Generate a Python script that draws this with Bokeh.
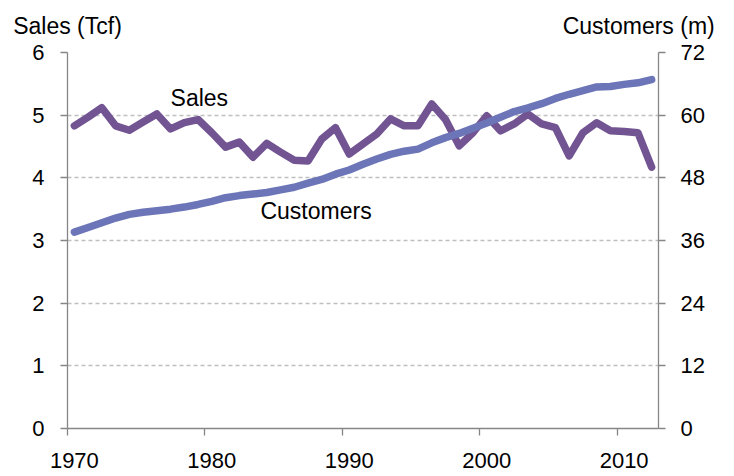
from bokeh.plotting import figure
from bokeh.models import Range1d, LinearAxis, FixedTicker, Label
from bokeh.embed import file_html
from bokeh.resources import INLINE

years = list(range(1970, 2013))
sales = [4.83, 4.97, 5.12, 4.83, 4.76, 4.89, 5.02, 4.78, 4.88, 4.93,
         4.72, 4.49, 4.57, 4.33, 4.55, 4.41, 4.28, 4.27, 4.62, 4.80,
         4.38, 4.54, 4.70, 4.94, 4.83, 4.83, 5.18, 4.93, 4.51, 4.72,
         4.99, 4.75, 4.86, 5.02, 4.86, 4.80, 4.35, 4.72, 4.88, 4.75,
         4.74, 4.72, 4.17]
customers = [37.6, 38.5, 39.4, 40.3, 41.0, 41.4, 41.7, 42.0, 42.4, 42.9,
             43.5, 44.2, 44.6, 44.9, 45.2, 45.7, 46.2, 47.0, 47.7, 48.7,
             49.5, 50.6, 51.6, 52.5, 53.1, 53.5, 54.7, 55.7, 56.5, 57.5,
             58.5, 59.6, 60.7, 61.4, 62.2, 63.2, 64.0, 64.7, 65.4, 65.5,
             65.9, 66.2, 66.8]
x_ticks = [1970, 1980, 1990, 2000, 2010]
x_tick_labels = ["1970", "1980", "1990", "2000", "2010"]
left_ticks = [0, 1, 2, 3, 4, 5, 6]
right_ticks = [0, 12, 24, 36, 48, 60, 72]
left_title = "Sales (Tcf)"
right_title = "Customers (m)"

# categories are centred half a year after their boundary tick
xs = [y + 0.5 for y in years]
label_pos = [t + 0.5 for t in x_ticks]

FONT = "Liberation Sans"
AX = "#868686"

p = figure(width=734, height=476, output_backend="svg", toolbar_location=None,
           x_range=Range1d(1970, 2013), y_range=Range1d(0, 6),
           min_border_left=67, min_border_right=76, min_border_top=52,
           min_border_bottom=48)
p.extra_y_ranges = {"cust": Range1d(0, 72)}
p.outline_line_color = None
p.background_fill_color = "white"

p.line(xs, sales, line_color="#725492", line_width=7.5, line_cap="round", line_join="round")
p.line(xs, customers, y_range_name="cust", line_color="#6B75B7", line_width=7.5,
       line_cap="round", line_join="round")

p.xgrid.visible = False
p.ygrid.ticker = FixedTicker(ticks=left_ticks)
p.ygrid.grid_line_color = "#BFBFBF"
p.ygrid.grid_line_dash = "4 3"
p.ygrid.grid_line_width = 1.3

def style(ax, standoff, size="22px"):
    ax.axis_line_color = AX
    ax.axis_line_width = 1.3
    ax.major_tick_line_color = AX
    ax.major_tick_line_width = 1.3
    ax.major_tick_in = 0
    ax.major_tick_out = 7
    ax.minor_tick_line_color = None
    ax.major_label_text_font = FONT
    ax.major_label_text_font_size = size
    ax.major_label_text_color = "black"
    ax.major_label_standoff = standoff

# bottom axis: boundary tick marks, no labels
xa = p.xaxis[0]
xa.ticker = FixedTicker(ticks=x_ticks)
style(xa, 0, "0px")
xa.major_label_overrides = {t: "" for t in x_ticks}

# second bottom axis: labels centred on the categories
xl = LinearAxis(ticker=FixedTicker(ticks=label_pos),
                major_label_overrides={pos: lab for pos, lab in zip(label_pos, x_tick_labels)})
style(xl, 17)
xl.axis_line_color = None
xl.major_tick_line_color = None
xl.major_tick_out = 0
p.add_layout(xl, "below")

p.yaxis.ticker = FixedTicker(ticks=left_ticks)
style(p.yaxis[0], 16)

raxis = LinearAxis(y_range_name="cust", ticker=FixedTicker(ticks=right_ticks))
style(raxis, 15)
p.add_layout(raxis, "right")

# top axis carrying the two axis titles
title_pos = [1970.001, 2011.56]
ta = LinearAxis(ticker=FixedTicker(ticks=title_pos),
                major_label_overrides={title_pos[0]: left_title, title_pos[1]: right_title})
style(ta, 14, "23px")
ta.axis_line_color = None
ta.major_tick_line_color = None
ta.major_tick_out = 0
p.add_layout(ta, "above")

def lab(x, y, text, align="left"):
    p.add_layout(Label(x=x, y=y, text=text, text_font=FONT, text_font_size="23px",
                       text_align=align, text_baseline="middle", text_color="black"))

lab(1977.5, 5.28, "Sales")
lab(1984.04, 3.47, "Customers")

open("out.html", "w").write(file_html(p, INLINE))
